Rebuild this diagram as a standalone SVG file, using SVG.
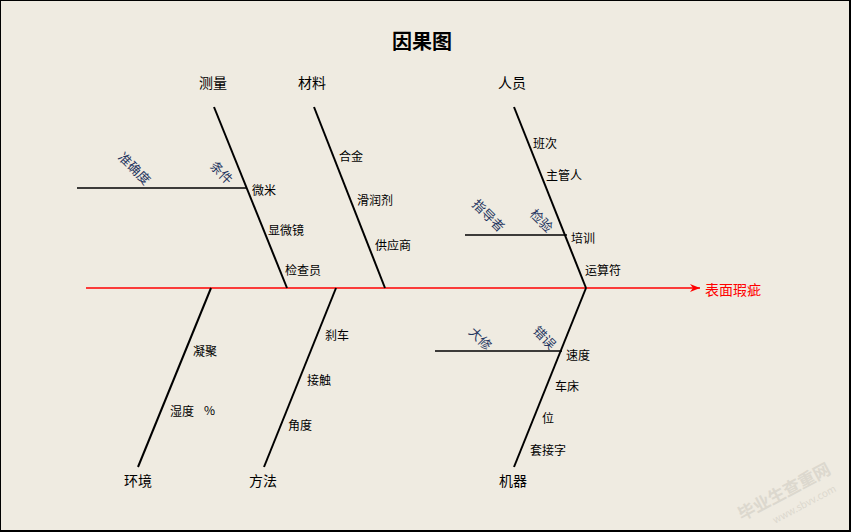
<svg xmlns="http://www.w3.org/2000/svg" width="851" height="532" viewBox="0 0 851 532">
<defs>
<style>
.t{font-family:"Noto Sans CJK SC","Liberation Sans",sans-serif;fill:#000;dominant-baseline:central}
.cat{font-size:14px;text-anchor:middle}
.sub{font-size:12px}
.rot{font-size:13px;fill:#1f3560;text-anchor:middle}
.bone{stroke:#000;stroke-width:2;fill:none}
.br{stroke:#000;stroke-width:1.3;fill:none}
.wm{font-family:"Noto Sans CJK SC",sans-serif;fill:#dcd8ce}
</style>
<marker id="ah" viewBox="0 0 10 10" refX="10" refY="5" markerWidth="10" markerHeight="10" markerUnits="userSpaceOnUse" orient="auto">
<path d="M0,1 L10,5 L0,9 L3,5 Z" fill="#f00"/>
</marker>
</defs>
<rect x="0" y="0" width="851" height="532" fill="#efebe1"/>
<rect x="0.5" y="0.5" width="849" height="530" fill="none" stroke="#000" stroke-width="1"/>
<line x1="850" y1="0" x2="850" y2="532" stroke="#000" stroke-width="2"/>
<line x1="0" y1="531" x2="851" y2="531" stroke="#000" stroke-width="2"/>

<g id="watermark" transform="translate(787,497) rotate(-28)">
<text class="wm" x="0" y="0" font-size="17" font-weight="bold" text-anchor="middle">毕业生查重网</text>
<text class="wm" x="12" y="18" font-size="10" text-anchor="middle" font-family="Liberation Serif">www.sbvv.com</text>
</g>

<text class="t" x="422" y="40" font-size="20" font-weight="bold" text-anchor="middle">因果图</text>

<g id="connectors">
<line x1="86" y1="288" x2="700" y2="288" stroke="#f00" stroke-width="1.3" marker-end="url(#ah)"/>
<line class="bone" x1="214" y1="107" x2="287" y2="288"/>
<line class="bone" x1="314" y1="107" x2="385" y2="288"/>
<line class="bone" x1="514" y1="107" x2="586" y2="288"/>
<line class="bone" x1="211" y1="288" x2="138" y2="467"/>
<line class="bone" x1="336" y1="288" x2="264" y2="467"/>
<line class="bone" x1="586" y1="288" x2="514" y2="467"/>
<line class="br" x1="77" y1="188" x2="247" y2="188"/>
<line class="br" x1="465" y1="235" x2="567" y2="235"/>
<line class="br" x1="435" y1="351" x2="562" y2="351"/>
</g>

<g id="effect"><text class="t" x="705" y="289" font-size="14" style="fill:#f00">表面瑕疵</text></g>

<g id="measure">
<text class="t cat" x="213" y="82">测量</text>
<text class="t sub" x="252" y="189">微米</text>
<text class="t sub" x="268" y="229">显微镜</text>
<text class="t sub" x="285" y="269">检查员</text>
<text class="t rot" transform="translate(135,168) rotate(45)">准确度</text>
<text class="t rot" transform="translate(222,172) rotate(45)">条件</text>
</g>

<g id="material">
<text class="t cat" x="312" y="82">材料</text>
<text class="t sub" x="339" y="155">合金</text>
<text class="t sub" x="357" y="199">滑润剂</text>
<text class="t sub" x="375" y="244">供应商</text>
</g>

<g id="people">
<text class="t cat" x="512" y="82">人员</text>
<text class="t sub" x="533" y="142">班次</text>
<text class="t sub" x="546" y="174">主管人</text>
<text class="t sub" x="571" y="237">培训</text>
<text class="t sub" x="585" y="269">运算符</text>
<text class="t rot" transform="translate(489,215) rotate(45)">指导者</text>
<text class="t rot" transform="translate(542,220) rotate(45)">检验</text>
</g>

<g id="environment">
<text class="t cat" x="138" y="480">环境</text>
<text class="t sub" x="193" y="350">凝聚</text>
<text class="t sub" x="170" y="410">湿度</text>
<text class="t sub" x="204" y="409" font-size="10">%</text>
</g>

<g id="method">
<text class="t cat" x="263" y="480">方法</text>
<text class="t sub" x="325" y="334">刹车</text>
<text class="t sub" x="307" y="379">接触</text>
<text class="t sub" x="288" y="424">角度</text>
</g>

<g id="machine">
<text class="t cat" x="513" y="480">机器</text>
<text class="t sub" x="566" y="354">速度</text>
<text class="t sub" x="555" y="385">车床</text>
<text class="t sub" x="542" y="417">位</text>
<text class="t sub" x="530" y="449">套接字</text>
<text class="t rot" transform="translate(481,338) rotate(45)">大修</text>
<text class="t rot" transform="translate(545,337) rotate(45)">错误</text>
</g>
</svg>
